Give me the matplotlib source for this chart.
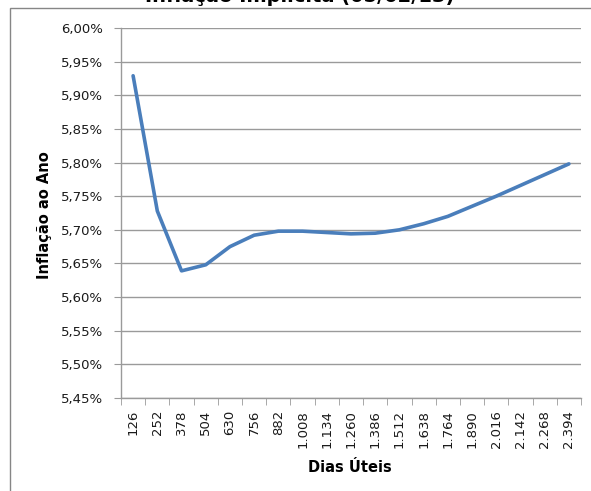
import numpy as np
import matplotlib
matplotlib.use("Agg")
import matplotlib.pyplot as plt
from matplotlib.patches import Rectangle

# Curva de inflação implícita por prazo (dias úteis)
dias_uteis = [126, 252, 378, 504, 630, 756, 882, 1008, 1134, 1260,
              1386, 1512, 1638, 1764, 1890, 2016, 2142, 2268, 2394]
inflacao = [5.929, 5.728, 5.639, 5.648, 5.675, 5.692, 5.698, 5.698, 5.696, 5.694,
            5.695, 5.700, 5.709, 5.720, 5.735, 5.750, 5.766, 5.782, 5.798]
y_ticks = [5.45, 5.50, 5.55, 5.60, 5.65, 5.70, 5.75, 5.80, 5.85, 5.90, 5.95, 6.00]

GRID = "#9a9a9a"
LINE = "#4a7ebb"


def fmt_br(n):
    # separador de milhar no padrão brasileiro
    return f"{n:,}".replace(",", ".")


W, H = 591, 491
fig = plt.figure(figsize=(W / 100, H / 100), dpi=100)
fig.patch.set_facecolor("white")

# borda da área do gráfico
fig.patches.append(Rectangle((10 / W, -0.1), 1.2, 1.1 - 8 / H,
                             transform=fig.transFigure, fill=False,
                             edgecolor="#868686", lw=1.0))

fig.text(300 / W, 1 - 1.5 / H, "Inflação Implícita (05/02/13)", ha="center",
         va="baseline", fontsize=14, fontweight="bold")

left, right = 121 / W, 581 / W
top, bottom = 1 - 28 / H, 1 - 398 / H
ax = fig.add_axes([left, bottom, right - left, top - bottom])

x = np.arange(len(dias_uteis))
ax.plot(x, inflacao, color=LINE, lw=2.6, solid_capstyle="round", zorder=3)

ax.set_xlim(-0.5, len(dias_uteis) - 0.5)
ax.set_ylim(y_ticks[0], y_ticks[-1])

ax.set_yticks(y_ticks)
ax.set_yticklabels([f"{v:.2f}%".replace(".", ",") for v in y_ticks],
                   fontsize=9.5, color="#1a1a1a")
ax.yaxis.grid(True, color=GRID, lw=1.0)
ax.set_axisbelow(True)

ax.set_xticks(x)
ax.set_xticklabels([fmt_br(d) for d in dias_uteis], rotation=90,
                   fontsize=9.5, color="#1a1a1a", va="top")
ax.set_xticks(np.arange(-0.5, len(dias_uteis)), minor=True)
ax.tick_params(axis="x", which="major", length=0, pad=8.5)
ax.tick_params(axis="x", which="minor", length=5, color=GRID)
ax.tick_params(axis="y", length=5, color=GRID, pad=8)

for side in ("top", "right"):
    ax.spines[side].set_visible(False)
for side in ("left", "bottom"):
    ax.spines[side].set_color(GRID)
    ax.spines[side].set_linewidth(1.0)

fig.text(350 / W, 1 - 467 / H, "Dias Úteis", ha="center", va="center",
         fontsize=10.5, fontweight="bold")
fig.text(45 / W, 1 - 215 / H, "Inflação ao Ano", ha="center", va="center",
         rotation=90, fontsize=10.5, fontweight="bold")

fig.savefig("out.png", dpi=100)
